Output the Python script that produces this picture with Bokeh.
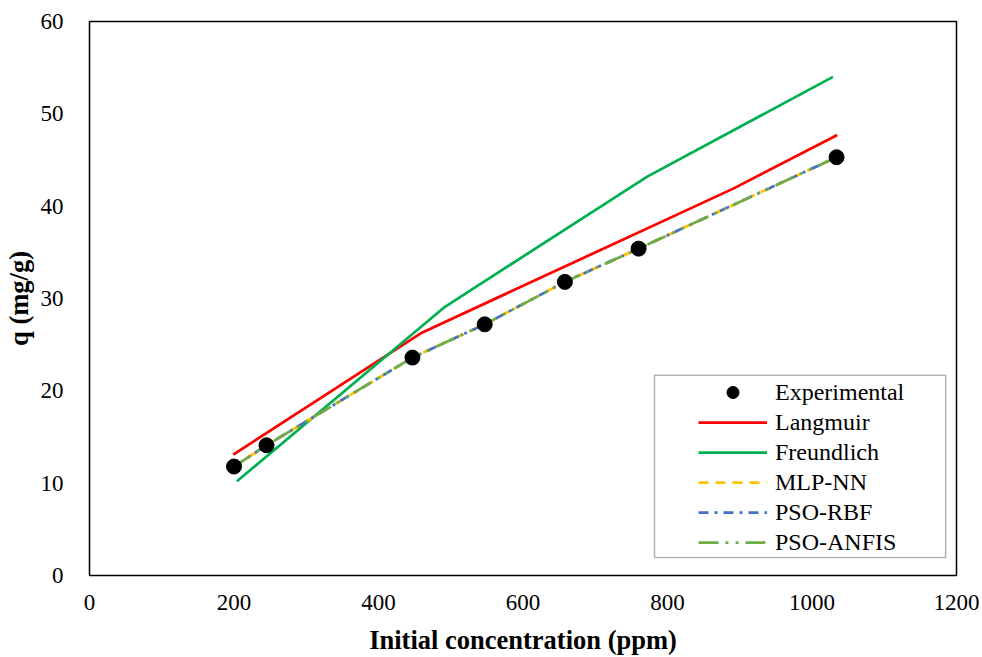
from bokeh.plotting import figure
from bokeh.models import (
    Range1d,
    Legend,
    LegendItem,
    BoxAnnotation,
    SingleIntervalTicker,
)
from bokeh.embed import file_html
from bokeh.resources import INLINE

# Experimental isotherm points
conc_exp = [200, 245, 447, 547, 658, 760, 1034]
q_exp = [11.8, 14.1, 23.6, 27.2, 31.8, 35.4, 45.3]

# Classical isotherm models
conc_langmuir = [199, 460, 891, 1035]
q_langmuir = [13.1, 26.3, 41.9, 47.7]
conc_freundlich = [204, 492, 772, 1029]
q_freundlich = [10.2, 29.1, 43.2, 54.0]

# Soft-computing models (overlap the experimental data)
q_mlp = [11.8, 14.1, 23.6, 27.2, 31.8, 35.4, 45.3]
q_rbf = [11.8, 14.1, 23.6, 27.2, 31.8, 35.4, 45.3]
q_anfis = [11.8, 14.1, 23.6, 27.2, 31.8, 35.4, 45.3]

FONT = "Liberation Serif"

p = figure(
    width=982,
    height=657,
    x_range=Range1d(0, 1200),
    y_range=Range1d(0, 60),
    output_backend="svg",
    toolbar_location=None,
    min_border_left=89,
    min_border_right=26,
    min_border_top=21,
    min_border_bottom=81,
)

r_lang = p.line(conc_langmuir, q_langmuir, line_color="#FF0000", line_width=2.75)
r_freu = p.line(conc_freundlich, q_freundlich, line_color="#00B050", line_width=2.75)
r_mlp = p.line(conc_exp, q_mlp, line_color="#FFC000", line_width=2.75, line_dash="10 7")
r_rbf = p.line(conc_exp, q_rbf, line_color="#4472C4", line_width=2.75, line_dash="10 6 3 6")
r_anfis = p.line(conc_exp, q_anfis, line_color="#70AD47", line_width=2.75,
                 line_dash="20 7 3 7 3 7")
r_exp = p.scatter(conc_exp, q_exp, size=15, color="black")

# Axes styling (Excel look)
p.xaxis.ticker = SingleIntervalTicker(interval=200)
p.yaxis.ticker = SingleIntervalTicker(interval=10)
p.axis.axis_line_color = None
p.axis.major_tick_line_color = None
p.axis.minor_tick_line_color = None
p.axis.major_label_text_font = FONT
p.axis.major_label_text_font_size = "23px"
p.axis.major_label_text_color = "black"
p.xaxis.major_label_standoff = 13
p.yaxis.major_label_standoff = 20

p.axis.axis_label_text_font = FONT
p.axis.axis_label_text_font_size = "26.5px"
p.axis.axis_label_text_font_style = "bold"
p.axis.axis_label_text_color = "black"
p.xaxis.axis_label = "Initial concentration (ppm)"
p.xaxis.axis_label_standoff = 12
p.yaxis.axis_label = "q (mg/g)"
p.yaxis.axis_label_standoff = 4

p.xgrid.grid_line_color = None
p.ygrid.grid_line_color = None
p.outline_line_color = "black"
p.outline_line_width = 1.5

# legend frame
p.add_layout(BoxAnnotation(left=782, right=1185, bottom=1.95, top=21.7,
                           fill_alpha=0, line_color="black", line_width=1.5))

legend = Legend(
    items=[
        LegendItem(label="Experimental", renderers=[r_exp]),
        LegendItem(label="Langmuir", renderers=[r_lang]),
        LegendItem(label="Freundlich", renderers=[r_freu]),
        LegendItem(label="MLP-NN", renderers=[r_mlp]),
        LegendItem(label="PSO-RBF", renderers=[r_rbf]),
        LegendItem(label="PSO-ANFIS", renderers=[r_anfis]),
    ],
    location=(609, 18),
)
legend.padding = 0
legend.margin = 0
legend.spacing = 0
legend.glyph_width = 69
legend.glyph_height = 30
legend.label_height = 30
legend.label_standoff = 8
legend.label_text_font = FONT
legend.label_text_font_size = "24px"
legend.label_text_color = "black"
legend.label_text_baseline = "middle"
legend.border_line_color = None
legend.background_fill_alpha = 0
p.add_layout(legend)

open("out.html", "w").write(file_html(p, INLINE))
